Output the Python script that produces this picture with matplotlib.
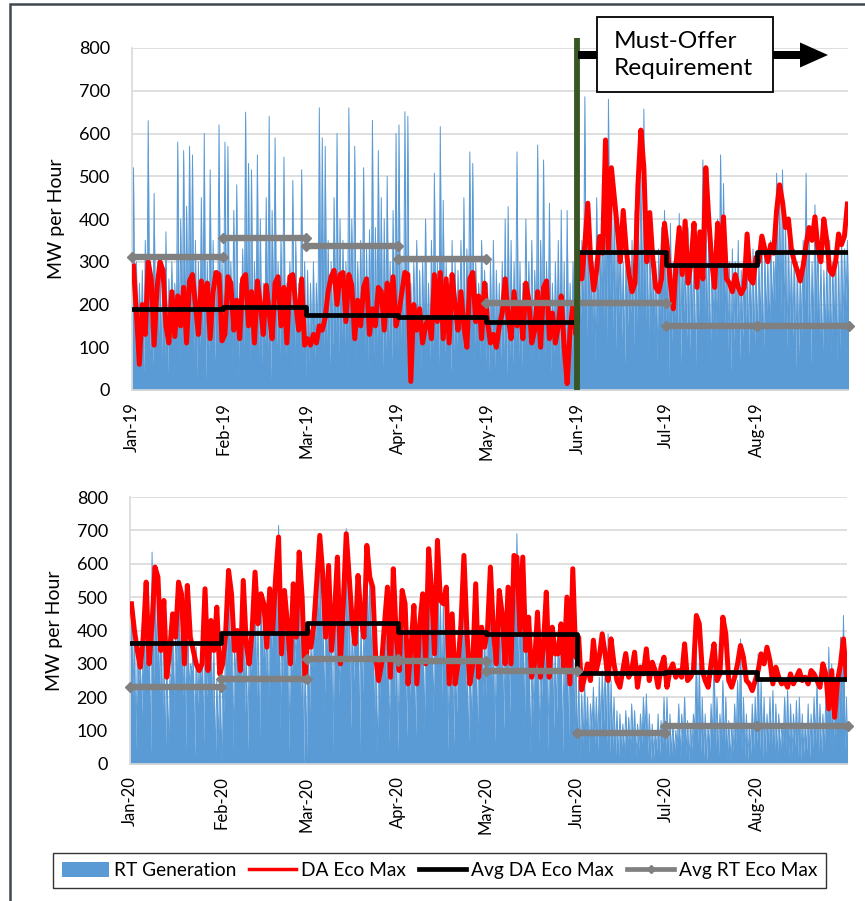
import numpy as np
import matplotlib
matplotlib.use("Agg")
import matplotlib.pyplot as plt
from matplotlib.lines import Line2D
from matplotlib.patches import Patch, Rectangle, Polygon

plt.rcParams['font.family'] = ['Lato', 'DejaVu Sans']

# ---------------- data ----------------
month_names = ["Jan", "Feb", "Mar", "Apr", "May", "Jun", "Jul", "Aug"]

# Day-ahead economic maximum, daily (MW), Jan-Aug 2019
da_eco_max_2019 = [
    290, 180, 60, 200, 130, 300, 260, 105, 240, 300, 280, 150, 110, 230, 125, 220, 150, 240, 110, 255, 270, 200, 130, 255, 190, 250, 120, 230, 275, 270, 115,
    130, 265, 250, 140, 210, 120, 260, 270, 150, 230, 110, 255, 200, 130, 245, 180, 120, 250, 265, 150, 240, 110, 265, 270, 200, 140, 260, 105,
    120, 105, 130, 110, 150, 140, 170, 230, 265, 280, 200, 270, 275, 160, 270, 245, 120, 210, 150, 240, 260, 130, 190, 150, 240, 230, 140, 250, 180, 265, 150,
    180, 230, 275, 270, 20, 200, 140, 190, 110, 150, 170, 120, 270, 160, 275, 120, 260, 110, 270, 200, 140, 230, 150, 100, 260, 275, 160, 220, 120, 250,
    160, 110, 130, 100, 150, 180, 260, 170, 120, 230, 150, 200, 120, 250, 210, 110, 140, 230, 100, 240, 255, 120, 180, 110, 150, 220, 100, 15, 140, 200, 130,
    320, 260, 340, 437, 300, 234, 280, 359, 320, 585, 330, 520, 450, 380, 300, 420, 330, 270, 230, 250, 480, 608, 520, 300, 415, 310, 240, 230, 260, 390,
    330, 250, 190, 300, 380, 270, 395, 250, 300, 390, 240, 370, 260, 520, 400, 300, 240, 390, 300, 405, 260, 250, 230, 270, 240, 225, 240, 365, 260, 250, 310,
    300, 360, 330, 300, 340, 320, 420, 480, 440, 380, 400, 330, 300, 280, 255, 290, 340, 380, 350, 405, 330, 300, 400, 350, 280, 270, 300, 365, 340, 360, 435,
]

# Real-time generation, daily high and low (MW), Jan-Aug 2019
rt_gen_high_2019 = [
    520, 300, 250, 280, 350, 630, 200, 460, 220, 300, 250, 370, 260, 300, 250, 580, 400, 560, 430, 570, 550, 350, 300, 450, 600, 300, 515, 350, 250, 620, 300,
    580, 570, 300, 420, 480, 250, 330, 650, 530, 515, 300, 550, 400, 250, 450, 640, 420, 590, 300, 360, 545, 250, 300, 490, 350, 250, 515, 300,
    280, 250, 300, 250, 660, 590, 570, 350, 300, 450, 600, 400, 350, 300, 660, 400, 570, 300, 350, 520, 330, 375, 631, 380, 560, 450, 400, 500, 300, 420, 600,
    620, 300, 651, 640, 250, 300, 350, 280, 300, 400, 250, 350, 507, 300, 616, 444, 300, 250, 350, 300, 280, 350, 450, 330, 557, 530, 300, 250, 350, 280,
    250, 300, 350, 280, 250, 300, 400, 429, 350, 300, 557, 300, 250, 400, 300, 350, 280, 573, 350, 538, 300, 437, 250, 300, 350, 421, 300, 420, 250, 300, 350,
    300, 350, 686, 400, 350, 300, 450, 350, 400, 500, 680, 468, 450, 400, 350, 300, 380, 300, 350, 420, 450, 500, 657, 420, 380, 350, 300, 330, 380, 420,
    350, 390, 300, 350, 413, 350, 300, 380, 330, 300, 350, 300, 538, 450, 380, 300, 350, 400, 550, 483, 350, 300, 330, 300, 350, 280, 300, 350, 300, 330, 300,
    300, 350, 320, 300, 350, 300, 507, 450, 515, 400, 350, 300, 330, 300, 280, 350, 507, 380, 300, 433, 350, 300, 280, 300, 350, 300, 320, 300, 350, 330, 350,
]
rt_gen_low_2019 = [
    150, 80, 60, 100, 40, 120, 90, 60, 110, 130, 80, 60, 20, 100, 90, 120, 60, 110, 130, 90, 140, 80, 30, 100, 120, 20, 90, 110, 70, 130, 100,
    110, 90, 130, 60, 100, 20, 110, 90, 130, 70, 100, 120, 80, 60, 110, 90, 20, 130, 100, 80, 110, 70, 120, 90, 40, 110, 100, 80,
    30, 60, 90, 70, 100, 120, 90, 110, 60, 100, 130, 80, 110, 90, 40, 120, 100, 70, 110, 130, 90, 60, 110, 80, 100, 120, 50, 90, 110, 70, 100,
    90, 110, 60, 100, 10, 80, 120, 90, 50, 100, 110, 70, 90, 120, 60, 100, 80, 110, 40, 90, 100, 120, 70, 60, 100, 90, 50, 110, 80, 100,
    60, 40, 80, 50, 100, 70, 90, 30, 80, 60, 110, 70, 40, 90, 100, 50, 80, 110, 60, 90, 70, 100, 40, 80, 110, 60, 30, 10, 70, 90, 60,
    100, 150, 120, 80, 180, 130, 60, 150, 200, 160, 110, 220, 140, 90, 170, 120, 60, 150, 180, 100, 140, 200, 160, 120, 80, 150, 130, 60, 170, 140,
    150, 30, 110, 170, 140, 60, 180, 120, 90, 150, 50, 160, 200, 140, 100, 60, 150, 120, 180, 200, 130, 90, 40, 110, 150, 70, 120, 160, 80, 130, 100,
    120, 150, 60, 160, 130, 180, 200, 220, 180, 140, 90, 150, 120, 50, 80, 130, 200, 150, 60, 140, 170, 110, 60, 130, 100, 80, 140, 60, 90, 150, 200,
]

# Monthly averages (MW), Jan-Aug 2019
avg_da_eco_max_2019 = [189, 193, 176, 170, 160, 322, 292, 322]
avg_rt_eco_max_2019 = [312, 355, 338, 306, 203, 203, 150, 150]

# Day-ahead economic maximum, daily (MW), Jan-Aug 2020
da_eco_max_2020 = [
    480, 400, 340, 290, 380, 545, 300, 420, 590, 560, 340, 490, 260, 340, 450, 380, 545, 510, 300, 535, 380, 340, 300, 280, 300, 525, 280, 430, 340, 470, 270,
    300, 390, 580, 510, 340, 400, 280, 550, 360, 300, 400, 575, 420, 510, 480, 350, 525, 400, 560, 680, 330, 520, 420, 300, 540, 380, 635, 500, 250,
    400, 350, 420, 550, 685, 570, 380, 595, 340, 450, 620, 300, 480, 690, 560, 430, 360, 565, 440, 380, 655, 560, 530, 320, 250, 300, 420, 530, 260, 585, 380,
    280, 520, 480, 240, 350, 475, 240, 420, 510, 300, 645, 520, 330, 670, 490, 480, 530, 240, 450, 240, 300, 420, 625, 400, 240, 300, 540, 260, 410, 350,
    400, 590, 400, 300, 520, 450, 300, 530, 300, 625, 620, 400, 620, 340, 440, 260, 300, 455, 260, 350, 515, 260, 410, 330, 330, 420, 290, 500, 240, 585, 320,
    380, 222, 260, 300, 250, 371, 280, 320, 390, 330, 250, 375, 300, 250, 230, 280, 331, 260, 280, 335, 230, 290, 270, 345, 250, 305, 280, 230, 290, 320,
    230, 280, 300, 260, 280, 260, 360, 250, 260, 280, 445, 420, 280, 250, 230, 300, 360, 250, 270, 440, 390, 250, 230, 260, 300, 355, 320, 250, 240, 220, 250,
    280, 330, 300, 350, 310, 240, 290, 260, 240, 250, 230, 270, 240, 260, 280, 250, 260, 240, 280, 270, 250, 230, 300, 270, 165, 280, 140, 250, 300, 375, 260,
]

# Real-time generation, daily high and low (MW), Jan-Aug 2020
rt_gen_high_2020 = [
    480, 400, 350, 300, 380, 545, 350, 635, 590, 500, 380, 490, 300, 250, 450, 380, 545, 400, 350, 535, 300, 340, 350, 300, 350, 525, 300, 430, 340, 250, 280,
    250, 390, 580, 480, 350, 400, 350, 550, 360, 350, 400, 575, 420, 510, 480, 400, 525, 450, 560, 715, 400, 520, 420, 350, 540, 400, 635, 500, 300,
    400, 350, 420, 550, 690, 570, 400, 595, 380, 450, 620, 350, 480, 705, 560, 430, 400, 565, 440, 400, 655, 560, 530, 350, 300, 350, 420, 530, 300, 585, 400,
    300, 520, 480, 300, 350, 475, 300, 420, 510, 350, 645, 520, 350, 670, 490, 480, 530, 300, 450, 300, 350, 420, 625, 400, 300, 350, 540, 300, 410, 380,
    400, 590, 400, 350, 520, 450, 350, 530, 350, 625, 690, 400, 620, 380, 440, 300, 350, 455, 300, 380, 515, 300, 410, 350, 350, 420, 300, 500, 300, 560, 350,
    250, 210, 240, 200, 180, 230, 200, 260, 280, 300, 390, 250, 200, 160, 150, 120, 160, 140, 180, 160, 120, 150, 200, 210, 150, 120, 100, 150, 130, 200,
    200, 150, 120, 100, 180, 150, 200, 130, 120, 150, 340, 300, 200, 150, 120, 180, 340, 200, 150, 250, 200, 130, 120, 180, 250, 375, 200, 150, 120, 180, 200,
    330, 250, 200, 150, 200, 220, 180, 150, 120, 200, 220, 180, 150, 190, 200, 150, 120, 180, 150, 200, 250, 180, 150, 200, 350, 300, 200, 250, 380, 445, 200,
]
rt_gen_low_2020 = [
    320, 200, 40, 250, 150, 300, 280, 30, 250, 300, 200, 120, 10, 60, 280, 150, 300, 320, 200, 40, 220, 280, 20, 180, 260, 60, 200, 300, 150, 0, 60,
    0, 150, 300, 280, 40, 250, 300, 250, 150, 40, 280, 350, 200, 60, 300, 250, 150, 320, 380, 300, 100, 250, 300, 30, 280, 300, 380, 200, 0,
    30, 150, 280, 350, 400, 300, 150, 350, 250, 40, 320, 200, 350, 400, 300, 100, 250, 350, 40, 200, 400, 350, 280, 100, 30, 200, 300, 250, 60, 320, 200,
    40, 300, 280, 80, 200, 320, 60, 250, 350, 100, 400, 300, 150, 350, 300, 200, 280, 40, 300, 60, 150, 280, 350, 200, 30, 120, 320, 60, 250, 200,
    200, 380, 250, 60, 300, 280, 100, 300, 150, 350, 400, 250, 350, 100, 280, 30, 150, 300, 60, 200, 300, 40, 250, 100, 150, 280, 30, 300, 60, 300, 100,
    40, 20, 60, 80, 30, 100, 60, 40, 90, 120, 60, 30, 50, 20, 10, 40, 20, 50, 30, 60, 20, 40, 60, 80, 30, 10, 20, 40, 30, 60,
    40, 10, 20, 30, 50, 20, 60, 30, 10, 40, 100, 60, 30, 20, 10, 40, 80, 50, 20, 60, 40, 20, 10, 30, 60, 80, 40, 20, 10, 30, 50,
    60, 40, 20, 30, 50, 40, 20, 10, 30, 60, 40, 20, 30, 50, 20, 10, 30, 40, 20, 50, 60, 30, 20, 40, 100, 60, 40, 80, 120, 150, 40,
]

# Monthly averages (MW), Jan-Aug 2020
avg_da_eco_max_2020 = [364, 393, 421, 396, 391, 273, 276, 254]
avg_rt_eco_max_2020 = [231, 254, 314, 309, 278, 94, 114, 114]

# ---------------- styling ----------------
BLUE = "#5b9bd5"
RED = "#ff0000"
GRAY = "#808080"
GRID = "#d9d9d9"
W, H = 865, 901

fig = plt.figure(figsize=(W / 100, H / 100), dpi=100)


def fx(px):
    return px / W


def fy(py):
    return 1 - py / H


def month_starts(year):
    months = np.arange(np.datetime64(f"{year}-01"), np.datetime64(f"{year}-10"), dtype="datetime64[M]")
    return (months.astype("datetime64[D]") - np.datetime64(f"{year}-01-01")).astype(int)


def draw_panel(ax, year, da, high, low, avg_da, avg_rt):
    starts = month_starts(year)
    n = min(len(high), len(low))
    days = np.arange(n)
    xb = np.empty(2 * n + 1)
    yb = np.empty(2 * n + 1)
    xb[0:-1:2] = days
    xb[1::2] = days + 0.5
    xb[-1] = n
    yb[0:-1:2] = low[:n]
    yb[1::2] = high[:n]
    yb[-1] = low[n - 1]
    ax.fill_between(xb, 0, yb, color=BLUE, lw=0, zorder=2)
    ax.plot(xb, yb, color=BLUE, lw=0.7, zorder=2)

    ax.plot(np.arange(len(da)) + 0.5, da, color=RED, lw=3.6, zorder=3,
            solid_joinstyle="round")

    for i, v in enumerate(avg_rt):
        ax.plot([starts[i], starts[i + 1]], [v, v], color=GRAY, lw=4.6,
                marker="D", ms=5, markevery=[0, 1], zorder=5, clip_on=False,
                solid_capstyle="butt")

    ax.step(starts[:len(avg_da) + 1], list(avg_da) + [avg_da[-1]], where="post",
            color="black", lw=3.4, zorder=4, solid_capstyle="round")

    ax.set_xlim(0, starts[8] - 0.3)
    ax.set_ylim(0, 800)
    ax.set_yticks(np.arange(0, 801, 100))
    ax.set_xticks(starts[:8])
    ax.set_xticklabels([f"{m}-{str(year)[2:]}" for m in month_names],
                       rotation=90, fontsize=12)
    ax.tick_params(axis="x", length=0, pad=9)
    ax.tick_params(axis="y", length=0, pad=16, labelsize=13)
    ax.yaxis.grid(True, color=GRID, lw=1.2)
    ax.set_axisbelow(True)
    for s in ("top", "right"):
        ax.spines[s].set_visible(False)
    for s in ("left", "bottom"):
        ax.spines[s].set_color(GRID)
        ax.spines[s].set_linewidth(1.2)
    ax.set_ylabel("MW per Hour", fontsize=14, labelpad=10)


ax1 = fig.add_axes([fx(132), fy(390), fx(848) - fx(132), fy(48) - fy(390)])
draw_panel(ax1, 2019, da_eco_max_2019, rt_gen_high_2019, rt_gen_low_2019,
           avg_da_eco_max_2019, avg_rt_eco_max_2019)

ax2 = fig.add_axes([fx(130), fy(764), fx(847) - fx(130), fy(497) - fy(764)])
draw_panel(ax2, 2020, da_eco_max_2020, rt_gen_high_2020, rt_gen_low_2020,
           avg_da_eco_max_2020, avg_rt_eco_max_2020)

# Must-offer marker on the 2019 panel: vertical line at 1 June
jun_2019 = month_starts(2019)[5]
ax1.plot([jun_2019, jun_2019], [0, 823], color="#375623", lw=4.2, zorder=6,
         clip_on=False, solid_capstyle="butt")

# Callout box and arrows (figure pixel layout)
fig.add_artist(Polygon([(fx(578), fy(51)), (fx(598), fy(51)), (fx(598), fy(59)), (fx(578), fy(59))],
                       closed=True, facecolor="black", edgecolor="none"))
fig.add_artist(Polygon([(fx(772), fy(51)), (fx(800), fy(51)), (fx(800), fy(42.5)), (fx(828), fy(55)),
                        (fx(800), fy(67.5)), (fx(800), fy(59)), (fx(772), fy(59))],
                       closed=True, facecolor="black", edgecolor="none"))
fig.add_artist(Rectangle((fx(597), fy(92)), fx(773) - fx(597), fy(17) - fy(92),
                         facecolor="white", edgecolor="black", lw=1.3))
fig.text(fx(614), fy(55), "Must-Offer\nRequirement", fontsize=17.6, ha="left",
         va="center", linespacing=1.32)

# Legend
handles = [
    Patch(facecolor=BLUE, edgecolor="none"),
    Line2D([], [], color=RED, lw=2.5),
    Line2D([], [], color="black", lw=3.4),
    Line2D([], [], color=GRAY, lw=3.4, marker="D", ms=4, markevery=[1]),
]
labels = ["RT Generation", "DA Eco Max", "Avg DA Eco Max", "Avg RT Eco Max"]
leg = fig.legend(handles, labels, loc="center", ncol=4,
                 bbox_to_anchor=(fx(439.5), fy(870.5)), fontsize=13.8,
                 frameon=True, fancybox=False, edgecolor="black",
                 handlelength=2.45, handleheight=0.8, handletextpad=0.25,
                 columnspacing=0.7, borderpad=0.45, borderaxespad=0)
leg.get_frame().set_linewidth(1.0)

# Outer frame
fig.add_artist(Rectangle((fx(10), fy(H + 20)), 1.2, fy(4) - fy(H + 20),
                         facecolor="none", edgecolor="#3d4850", lw=1.8))

fig.savefig("out.png", dpi=100)
